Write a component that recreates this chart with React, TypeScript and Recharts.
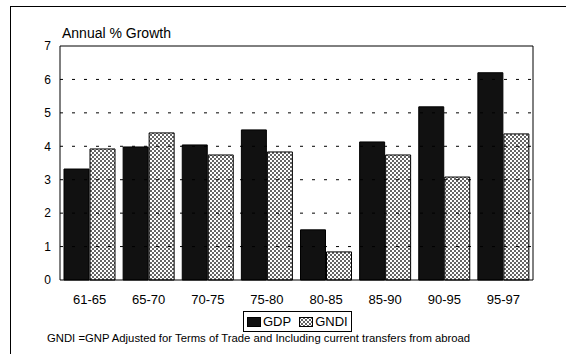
import { Bar, BarChart, Legend, ReferenceLine, XAxis, YAxis } from "recharts"

const periods = ["61-65", "65-70", "70-75", "75-80", "80-85", "85-90", "90-95", "95-97"]
const gdp = [3.32, 3.98, 4.04, 4.49, 1.5, 4.13, 5.18, 6.2]
const gndi = [3.92, 4.4, 3.74, 3.83, 0.84, 3.74, 3.08, 4.37]
const yTicks = [0, 1, 2, 3, 4, 5, 6, 7]
const gridLevels = [1, 2, 3, 4, 5, 6]

const data = periods.map((name, i) => ({ name, gdp: gdp[i], gndi: gndi[i] }))

const font = "'Liberation Sans', Arial, sans-serif"

function LegendBox() {
    return (
        <div style={{
            border: "1px solid #000",
            display: "flex",
            alignItems: "center",
            padding: "2px 3px",
            fontFamily: font,
            fontSize: 13,
            color: "#000",
            background: "#fff",
            whiteSpace: "nowrap",
        }}>
            <span style={{ display: "inline-block", width: 12, height: 8, background: "#111", border: "1px solid #000", marginRight: 2 }} />
            <span style={{ marginRight: 8 }}>GDP</span>
            <svg width={14} height={10} style={{ marginRight: 2 }}>
                <rect x={0.5} y={0.5} width={13} height={9} fill="url(#dots)" stroke="#000" />
            </svg>
            <span>GNDI</span>
        </div>
    )
}

export default function App() {
    return (
        <div style={{ position: "absolute", left: 0, top: 0, width: 566, height: 354, background: "#fff" }}>
            <div style={{ position: "absolute", left: 10, top: 6, width: 556, height: 348, borderLeft: "1px solid #000", borderTop: "1px solid #000" }} />
            <div style={{ position: "absolute", left: 62, top: 25, fontFamily: font, fontSize: 14, color: "#000" }}>
                Annual % Growth
            </div>
            <BarChart
                width={566}
                height={354}
                data={data}
                margin={{ top: 45, right: 0, bottom: 44, left: 0 }}
                barCategoryGap={4}
                barGap={1}
                style={{ position: "absolute", left: 0, top: 0 }}
            >
                <defs>
                    <pattern id="dots" width="4" height="4" patternUnits="userSpaceOnUse">
                        <rect width="4" height="4" fill="#fff" />
                        <circle cx="1" cy="1" r="0.95" fill="#222" />
                        <circle cx="3" cy="3" r="0.95" fill="#222" />
                    </pattern>
                </defs>
                <XAxis
                    dataKey="name"
                    stroke="#000"
                    tickLine={false}
                    tickMargin={9}
                    height={30}
                    tick={{ fill: "#000", fontSize: 13, fontFamily: font }}
                />
                <XAxis xAxisId="top" orientation="top" dataKey="name" height={1} tick={false} tickLine={false} stroke="#000" />
                <YAxis
                    domain={[0, 7]}
                    ticks={yTicks}
                    width={60}
                    stroke="#000"
                    tickLine={false}
                    tickMargin={3}
                    tick={{ fill: "#000", fontSize: 12, fontFamily: font }}
                />
                <YAxis
                    yAxisId="right"
                    orientation="right"
                    domain={[0, 7]}
                    ticks={yTicks}
                    width={33}
                    stroke="#000"
                    tick={false}
                    tickSize={3}
                />
                {gridLevels.map((v) => (
                    <ReferenceLine key={v} y={v} stroke="#000" strokeDasharray="3 9" />
                ))}
                <Legend
                    layout="horizontal"
                    verticalAlign="middle"
                    align="center"
                    content={<LegendBox />}
                    wrapperStyle={{ position: "absolute", left: 243, top: 311, width: "auto" }}
                />
                <Bar dataKey="gdp" name="GDP" fill="#111" stroke="#000" isAnimationActive={false} />
                <Bar dataKey="gndi" name="GNDI" fill="url(#dots)" stroke="#000" isAnimationActive={false} />
            </BarChart>
            <div style={{ position: "absolute", left: 47, top: 332, fontFamily: font, fontSize: 11.3, color: "#000", whiteSpace: "nowrap" }}>
                GNDI =GNP Adjusted for Terms of Trade and Including current transfers from abroad
            </div>
        </div>
    )
}
